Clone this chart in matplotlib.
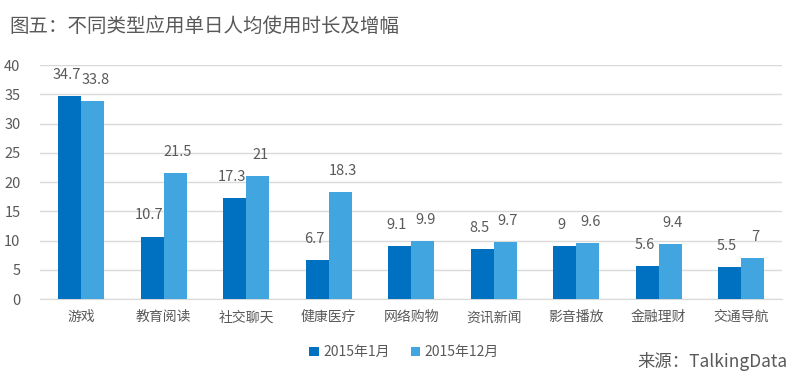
import matplotlib
matplotlib.use("Agg")
import matplotlib.pyplot as plt
import numpy as np

plt.rcParams['font.family'] = ['Noto Sans CJK SC', 'DejaVu Sans']

# Data
categories = ['游戏', '教育阅读', '社交聊天', '健康医疗', '网络购物', '资讯新闻', '影音播放', '金融理财', '交通导航']
jan_2015 = [34.7, 10.7, 17.3, 6.7, 9.1, 8.5, 9, 5.6, 5.5]
dec_2015 = [33.8, 21.5, 21, 18.3, 9.9, 9.7, 9.6, 9.4, 7]
series_names = ['2015年1月', '2015年12月']

dark = '#0070C0'
light = '#41A6DF'
text_color = '#595959'

fig = plt.figure(figsize=(8, 3.81), dpi=100)
ax = fig.add_axes([0.05, 0.215, 0.928, 0.614])

x = np.arange(len(categories))
w = 0.28
b1 = ax.bar(x - w / 2, jan_2015, w, color=dark, label=series_names[0], zorder=3)
b2 = ax.bar(x + w / 2, dec_2015, w, color=light, label=series_names[1], zorder=3)

# value labels, nudged slightly outward so neighbours don't collide
for bars, vals, dx in ((b1, jan_2015, -2), (b2, dec_2015, 2)):
    for rect, v in zip(bars, vals):
        ax.annotate(f'{v:g}', (rect.get_x() + rect.get_width() / 2, v + 2.4),
                    xytext=(dx, 0), textcoords='offset points',
                    ha='center', va='bottom', fontsize=10.5, color=text_color)

ax.set_xlim(-0.5, len(categories) - 0.5)
ax.set_ylim(0, 40)
ax.set_yticks(range(0, 41, 5))
ax.set_xticks(x)
ax.set_xticklabels(categories, fontsize=10, color=text_color)
ax.tick_params(axis='y', labelsize=10.5, colors=text_color, length=0, pad=14)
ax.tick_params(axis='x', length=0, pad=8)
ax.yaxis.grid(True, color='#D9D9D9', linewidth=1, zorder=0)
for s in ['top', 'right', 'left']:
    ax.spines[s].set_visible(False)
ax.spines['bottom'].set_color('#D9D9D9')

fig.text(0.012, 0.93, '图五：不同类型应用单日人均使用时长及增幅', fontsize=14,
         color=text_color, va='center')

fig.legend(handles=[b1, b2], loc='center', bbox_to_anchor=(0.505, 0.075), ncol=2,
           frameon=False, fontsize=10, handlelength=0.7, handleheight=0.7,
           handletextpad=0.3, columnspacing=1.5, labelcolor=text_color)

fig.text(0.985, 0.05, '来源：TalkingData', fontsize=12.5, color=text_color,
         ha='right', va='center')

fig.savefig('out.png', dpi=100)
